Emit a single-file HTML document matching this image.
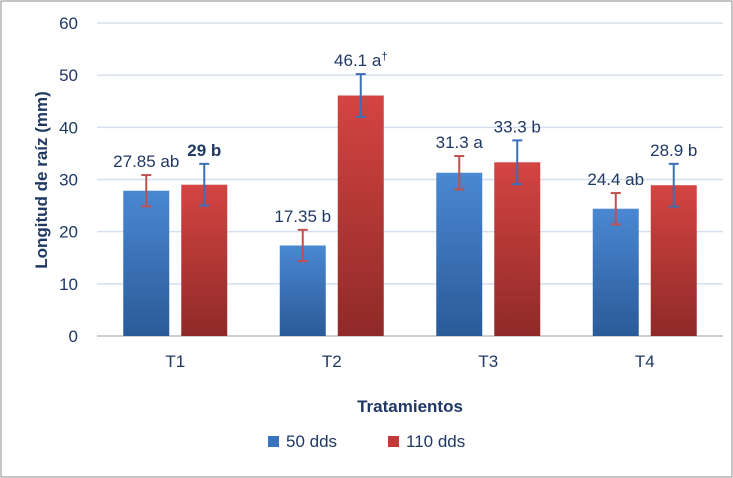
<!DOCTYPE html>
<html><head><meta charset="utf-8"><style>
body{margin:0;background:#fff;}
svg{display:block;font-family:"Liberation Sans",sans-serif;}
</style></head><body>
<svg id="chart" width="733" height="478">
<defs>
<linearGradient id="gb" x1="0" y1="0" x2="0" y2="1"><stop offset="0" stop-color="#4a88d2"/><stop offset="1" stop-color="#2b5a98"/></linearGradient>
<linearGradient id="gr" x1="0" y1="0" x2="0" y2="1"><stop offset="0" stop-color="#d44442"/><stop offset="1" stop-color="#8f2a28"/></linearGradient>
</defs>
<rect x="1" y="1" width="731" height="476" fill="#fff" stroke="#8c8c8c"/>
<g id="grid"></g><g id="bars"></g><g id="labels"></g>
<text x="0" y="0" transform="translate(47,180) rotate(-90)" text-anchor="middle" font-size="17" font-weight="bold" fill="#1f3864">Longitud de raíz (mm)</text>
<text x="410" y="412" text-anchor="middle" font-size="17" font-weight="bold" fill="#1f3864">Tratamientos</text>
<g>
<g><rect x="268" y="436" width="11" height="11" fill="#3a74c0"/><text x="286" y="447" font-size="17" fill="#1f3864">50 dds</text></g>
<g><rect x="388" y="436" width="11" height="11" fill="#c03a38"/><text x="406" y="447" font-size="17" fill="#1f3864">110 dds</text></g>
</g>
</svg>
<script>
const categories=["T1","T2","T3","T4"];
const s50=[27.85,17.35,31.3,24.4];
const s110=[29,46.1,33.3,28.9];
const err50=[3,3,3.2,3];
const err110=[4,4.1,4.2,4.1];
const lab50=["27.85 ab","17.35 b","31.3 a","24.4 ab"];
const lab110=["29 b","46.1 a","33.3 b","28.9 b"];
const sup110=["","†","",""];
const yTicks=[0,10,20,30,40,50,60];
const NS="http://www.w3.org/2000/svg";
const L=97,R=723,Y0=336,Ytop=23,ymax=60;
const y=v=>Y0-(v/ymax)*(Y0-Ytop);
const cw=(R-L)/categories.length;
const xc=i=>L+cw*(i+0.5);
function mk(t,a,p){const e=document.createElementNS(NS,t);for(const k in a)e.setAttribute(k,a[k]);p.appendChild(e);return e;}
const grid=document.getElementById('grid'),bars=document.getElementById('bars'),labs=document.getElementById('labels');
yTicks.forEach(v=>{
 const g=mk('line',{x1:L,x2:R,y1:y(v),y2:y(v),stroke:v===0?'#bfbfbf':'#d6e0ec','stroke-width':1.5},grid);
 
 
 const t=mk('text',{x:78,y:y(v)+6,'text-anchor':'end','font-size':17,fill:'#1f3864'},grid);
 t.textContent=v;
 
 
});
const bw=46,gap=12;
categories.forEach((c,i)=>{
 const t=mk('text',{x:xc(i),y:367,'text-anchor':'middle','font-size':17,fill:'#1f3864'},labs);
 t.textContent=c;
 
 
 [[s50,err50,lab50,'url(#gb)','#c0504d',-1,null],[s110,err110,lab110,'url(#gr)','#3a6fb8',1,sup110]].forEach(([s,e,lb,fill,ec,side,sup],k)=>{
  const x0=side<0?xc(i)-gap/2-bw:xc(i)+gap/2;
  const b=mk('rect',{x:x0,y:y(s[i]),width:bw,height:Y0-y(s[i]),fill:fill},bars);
  
  
  const cx=x0+bw/2,hi=y(s[i]+e[i]),lo=y(s[i]-e[i]);
  const eg=mk('g',{stroke:ec,'stroke-width':2},bars);
  
  
  mk('line',{x1:cx,x2:cx,y1:hi,y2:lo},eg);
  mk('line',{x1:cx-5,x2:cx+5,y1:hi,y2:hi},eg);
  mk('line',{x1:cx-5,x2:cx+5,y1:lo,y2:lo},eg);
  const dl=mk('text',{x:cx,y:hi-8,'text-anchor':'middle','font-size':17,fill:'#1f3864','font-weight':(i===0&&k===1)?'bold':'normal'},labs);
  dl.textContent=lb[i];
  if(sup&&sup[i]){const ts=mk('tspan',{'font-size':11,dy:-6},dl);ts.textContent=sup[i];}
  
  
 });
});
</script>
</body></html>
